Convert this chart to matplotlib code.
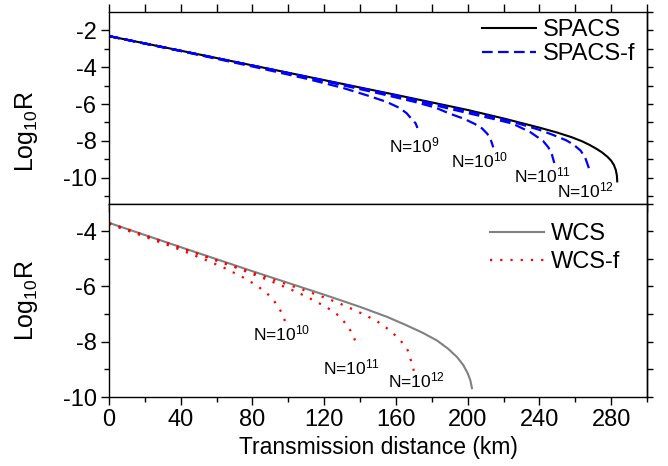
import math
import matplotlib
matplotlib.use("Agg")
import matplotlib.pyplot as plt

plt.rcParams['font.family'] = ['Liberation Sans', 'DejaVu Sans']
plt.rcParams['mathtext.fontset'] = 'custom'
plt.rcParams['mathtext.rm'] = 'Liberation Sans'
plt.rcParams['mathtext.it'] = 'Liberation Sans:italic'
plt.rcParams['mathtext.bf'] = 'Liberation Sans:bold'
plt.rcParams['axes.unicode_minus'] = False

# ---------------- data ----------------
# top panel: SPACS
spacs_x = [0, 40, 80, 120, 160, 200, 220, 240, 250, 258, 264, 268, 272, 275, 278, 280, 281.5, 282.6, 283.2, 283.4]
spacs_y = [-2.31, -3.10, -3.90, -4.70, -5.50, -6.32, -6.78, -7.28, -7.55, -7.80, -8.03, -8.22, -8.44, -8.63, -8.87, -9.07, -9.30, -9.58, -9.88, -10.20]

spacsf9_x = [0, 40, 80, 110, 130, 145, 155, 162, 166, 169, 171, 172]
spacsf9_y = [-2.31, -3.12, -3.96, -4.62, -5.11, -5.56, -5.89, -6.21, -6.50, -6.84, -7.05, -7.30]

spacsf10_x = [0, 40, 80, 120, 150, 170, 182, 190, 198, 204, 208, 211, 213, 214.3]
spacsf10_y = [-2.31, -3.11, -3.92, -4.75, -5.41, -5.87, -6.19, -6.52, -6.80, -7.08, -7.32, -7.62, -7.98, -8.35]

spacsf11_x = [0, 80, 160, 200, 215, 225, 235, 242, 245, 247, 248.3]
spacsf11_y = [-2.31, -3.91, -5.56, -6.49, -6.82, -7.06, -7.53, -8.00, -8.35, -8.75, -9.20]

spacsf12_x = [0, 80, 160, 200, 225, 240, 248, 255, 259, 263, 265.5, 267.5, 268.5]
spacsf12_y = [-2.31, -3.91, -5.53, -6.40, -6.96, -7.40, -7.69, -7.97, -8.20, -8.53, -8.90, -9.45, -9.71]

# bottom panel: WCS
wcs_x = [0, 40, 80, 120, 140, 155, 165, 175, 183, 189, 194, 197.5, 200, 201.5, 202.4]
wcs_y = [-3.70, -4.58, -5.45, -6.30, -6.74, -7.10, -7.38, -7.68, -7.96, -8.25, -8.55, -8.84, -9.14, -9.40, -9.68]

wcsf10_x = [0, 20, 40, 55, 65, 75, 82, 88, 92, 95, 97, 98.2]
wcsf10_y = [-3.74, -4.20, -4.68, -5.07, -5.35, -5.68, -5.95, -6.24, -6.52, -6.80, -7.05, -7.27]

wcsf11_x = [0, 40, 70, 90, 105, 115, 122, 128, 133, 136.3, 138.2]
wcsf11_y = [-3.71, -4.61, -5.30, -5.80, -6.21, -6.53, -6.78, -7.05, -7.42, -7.78, -8.17]

wcsf12_x = [0, 40, 80, 110, 121.8, 128, 134, 139.7, 145.3, 151.2, 156.8, 162.4, 166.5, 168.4, 170.0]
wcsf12_y = [-3.71, -4.60, -5.50, -6.16, -6.44, -6.60, -6.77, -6.94, -7.12, -7.33, -7.60, -7.94, -8.30, -8.69, -9.05]

top_labels = ['N=10$^{9}$', 'N=10$^{10}$', 'N=10$^{11}$', 'N=10$^{12}$']
top_label_x = [156, 190.5, 226, 250]
top_label_y = [-8.62, -9.44, -10.26, -11.07]
bot_labels = ['N=10$^{10}$', 'N=10$^{11}$', 'N=10$^{12}$']
bot_label_x = [80.5, 119.6, 155.5]
bot_label_y = [-7.96, -9.17, -9.66]

xticks = [0, 40, 80, 120, 160, 200, 240, 280]
top_yticks = [-2, -4, -6, -8, -10]
bot_yticks = [-4, -6, -8, -10]

# ---------------- figure ----------------
fig = plt.figure(figsize=(6.68, 4.66), dpi=100)
L, W = 109 / 668, 538 / 668
ax1 = fig.add_axes([L, 1 - 203.5 / 466, W, 191.5 / 466])
ax2 = fig.add_axes([L, 1 - 397 / 466, W, 193.5 / 466])

blue_dash = (0, (4.8, 2.4))
red_dot = (0, (1, 3.6))

ax1.plot(spacs_x, spacs_y, color='black', lw=1.5, label='SPACS')
first = True
for xs, ys in [(spacsf9_x, spacsf9_y), (spacsf10_x, spacsf10_y),
               (spacsf11_x, spacsf11_y), (spacsf12_x, spacsf12_y)]:
    ax1.plot(xs, ys, color='#0000ff', lw=1.6, linestyle=blue_dash,
             label='SPACS-f' if first else None)
    first = False

ax2.plot(wcs_x, wcs_y, color='#808080', lw=1.5, label='WCS')
first = True
for xs, ys in [(wcsf10_x, wcsf10_y), (wcsf11_x, wcsf11_y), (wcsf12_x, wcsf12_y)]:
    ax2.plot(xs, ys, color='#ff0000', lw=1.6, linestyle=red_dot,
             label='WCS-f' if first else None)
    first = False

for t, x, y in zip(top_labels, top_label_x, top_label_y):
    ax1.text(x, y, t, fontsize=12.5, va='baseline', ha='left')
for t, x, y in zip(bot_labels, bot_label_x, bot_label_y):
    ax2.text(x, y, t, fontsize=12.5, va='baseline', ha='left')

for ax in (ax1, ax2):
    ax.set_xlim(0, 300)
    for s in ax.spines.values():
        s.set_linewidth(1.0)

ax1.set_ylim(-11.4, -1.0)
ax2.set_ylim(-10, -3)

ax1.set_yticks(top_yticks)
ax1.set_yticks([-3, -5, -7, -9, -11], minor=True)
ax2.set_yticks(bot_yticks)
ax2.set_yticks([-5, -7, -9], minor=True)

ax1.set_xticks(range(0, 301, 20))
ax1.tick_params(axis='x', which='major', direction='out', length=6, width=1,
                top=True, bottom=True, labelbottom=False, labeltop=False)
ax2.set_xticks(xticks)
ax2.set_xticks(range(20, 301, 40), minor=True)
ax2.tick_params(axis='x', which='major', direction='out', length=6, width=1,
                top=False, bottom=True, labelsize=17, pad=3)
ax2.tick_params(axis='x', which='minor', direction='out', length=3.5, width=1,
                top=False, bottom=True)

for ax in (ax1, ax2):
    ax.tick_params(axis='y', which='major', direction='out', length=6, width=1,
                   left=True, right=False, labelsize=17, pad=3)
    ax.tick_params(axis='y', which='minor', direction='out', length=3.5, width=1,
                   left=True, right=False)
    sec = ax.secondary_yaxis('right')
    lo, hi = ax.get_ylim()
    sec.set_yticks([v for v in range(math.ceil(lo), math.floor(hi) + 1)])
    sec.tick_params(axis='y', direction='out', length=4, width=1, labelright=False)
    sec.spines['right'].set_linewidth(1.0)

ax1.set_ylabel('Log$_{10}$R', fontsize=18)
ax2.set_ylabel('Log$_{10}$R', fontsize=18)
ax1.yaxis.set_label_coords(-0.128, 0.377)
ax2.yaxis.set_label_coords(-0.128, 0.5)
ax2.set_xlabel('Transmission distance (km)', fontsize=16.5, labelpad=3)

ax1.legend(loc='upper left', bbox_to_anchor=(0.693, 0.963), frameon=False,
           fontsize=17, handlelength=2.3, handletextpad=0.3, labelspacing=0.1,
           borderpad=0, borderaxespad=0)
ax2.legend(loc='upper left', bbox_to_anchor=(0.708, 0.897), frameon=False,
           fontsize=17, handlelength=2.3, handletextpad=0.3, labelspacing=0.25,
           borderpad=0, borderaxespad=0)

fig.savefig('out.png', dpi=100)
